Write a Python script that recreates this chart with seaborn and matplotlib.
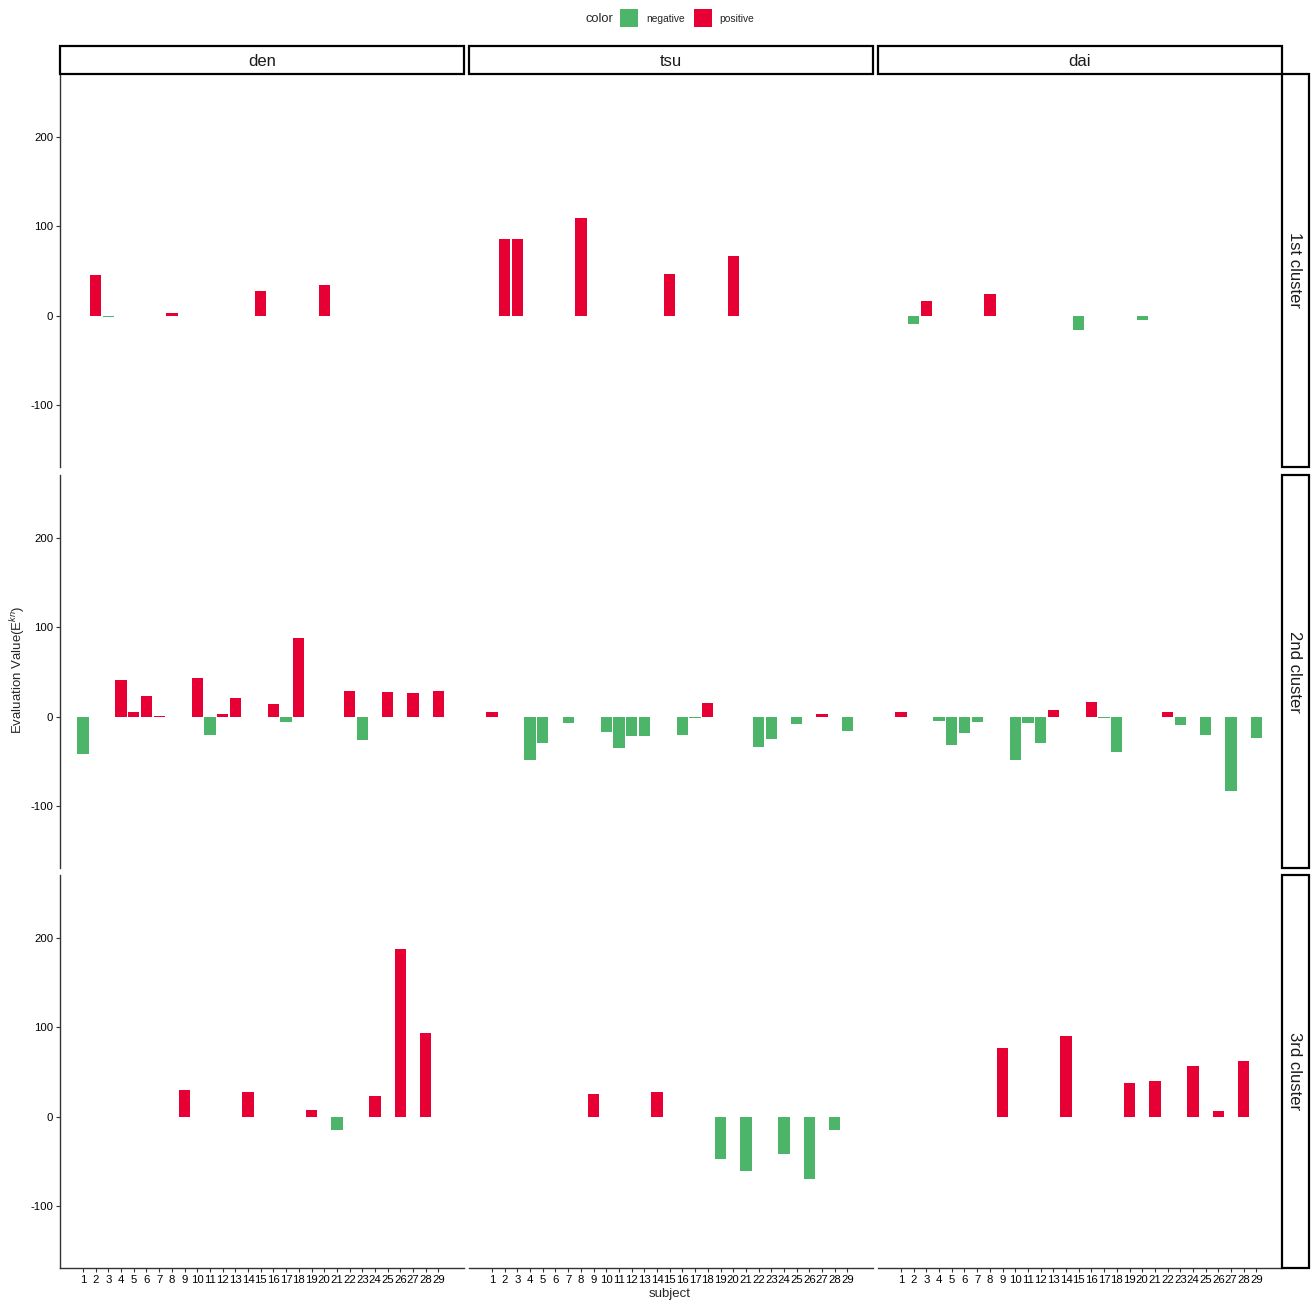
import matplotlib
matplotlib.use("Agg")
import matplotlib.pyplot as plt
import seaborn as sns
import pandas as pd
from matplotlib.patches import Rectangle

# ---------------- data ----------------
subjects = list(range(1, 30))
regions = ["den", "tsu", "dai"]
clusters = ["1st cluster", "2nd cluster", "3rd cluster"]

cluster1_subjects = [2, 3, 8, 15, 20]
den_c1 = [46, -1.5, 2.5, 27, 34]
tsu_c1 = [85.5, 85.5, 109, 47, 67]
dai_c1 = [-10, 16, 24.5, -16.5, -5.5]

cluster2_subjects = [1, 4, 5, 6, 7, 10, 11, 12, 13, 16, 17, 18, 22, 23, 25, 27, 29]
den_c2 = [-42, 41, 5, 23.5, 0.8, 42.8, -20.5, 2.6, 20.5, 14.5, -6.3, 88, 29, -26.4, 27.2, 26.4, 29]
tsu_c2 = [5.6, -48.8, -30, -1.1, -7, -17.9, -35.4, -21.6, -21.6, -20.5, -1.9, 15.6, -34.6, -25.3, -8.9, 2.6, -16.8]
dai_c2 = [4.8, -4.8, -31.7, -18.6, -6, -48.8, -7.8, -30.2, 7.8, 16.4, -2.2, -40.2, 4.8, -9.7, -20.5, -83.8, -24.2]

cluster3_subjects = [9, 14, 19, 21, 24, 26, 28]
den_c3 = [29.2, 28, 7.5, -15.7, 23.2, 188.4, 93.6]
tsu_c3 = [25.7, 27.2, -47.4, -60.9, -42.1, -70.2, -14.8]
dai_c3 = [76.6, 90, 37.3, 39.9, 57.1, 6.6, 62]

y_ticks = [-100, 0, 100, 200]
color_levels = ["negative", "positive"]
palette = {"negative": "#4DB569", "positive": "#E60033"}

cluster_data = {
    "1st cluster": (cluster1_subjects, {"den": den_c1, "tsu": tsu_c1, "dai": dai_c1}),
    "2nd cluster": (cluster2_subjects, {"den": den_c2, "tsu": tsu_c2, "dai": dai_c2}),
    "3rd cluster": (cluster3_subjects, {"den": den_c3, "tsu": tsu_c3, "dai": dai_c3}),
}

rows = []
for cl, (subs, vals) in cluster_data.items():
    for rg in regions:
        for s, v in zip(subs, vals[rg]):
            rows.append({"cluster": cl, "region": rg, "subject": str(s), "value": v,
                         "color": "positive" if v >= 0 else "negative"})
df = pd.DataFrame(rows)

# ---------------- figure ----------------
sns.set_style("white")
plt.rcParams["font.family"] = ["Liberation Sans", "DejaVu Sans"]
plt.rcParams["mathtext.fontset"] = "custom"
plt.rcParams["mathtext.rm"] = "Liberation Sans"
plt.rcParams["mathtext.it"] = "Liberation Sans:italic"
plt.rcParams["axes.unicode_minus"] = False

W, H = 1311, 1302
fig = plt.figure(figsize=(W / 100, H / 100), dpi=100)

col_x = [60, 469, 878]
col_w = 403.5
row_y = [74, 475, 875]
row_h = 393
order = [str(s) for s in subjects]

for i, cl in enumerate(clusters):
    for j, rg in enumerate(regions):
        ax = fig.add_axes([col_x[j] / W, 1 - (row_y[i] + row_h) / H, col_w / W, row_h / H])
        sub = df[(df.cluster == cl) & (df.region == rg)]
        sns.barplot(data=sub, x="subject", y="value", hue="color", order=order,
                    hue_order=color_levels, palette=palette, dodge=False, width=0.89,
                    errorbar=None, legend=False, saturation=1, linewidth=0, ax=ax)
        ax.set_xlim(-1.81, 28 + 1.97)
        ax.set_ylim(-170, 271)
        ax.set_xlabel("")
        ax.set_ylabel("")
        ax.set_yticks(y_ticks)
        for sp in ax.spines.values():
            sp.set_visible(False)
        ax.tick_params(axis="both", length=3, width=0.8, color="#333333",
                       labelsize=8.2, labelcolor="black", pad=2)
        if j == 0:
            ax.spines["left"].set_visible(True)
            ax.spines["left"].set_color("#333333")
            ax.spines["left"].set_linewidth(1.0)
            ax.tick_params(axis="y", left=True)
        else:
            ax.tick_params(axis="y", left=False, labelleft=False)
        if i == 2:
            ax.spines["bottom"].set_visible(True)
            ax.spines["bottom"].set_color("#333333")
            ax.spines["bottom"].set_linewidth(1.0)
            ax.tick_params(axis="x", bottom=True)
        else:
            ax.tick_params(axis="x", bottom=False, labelbottom=False)
        ax.grid(False)

# column strips
for j, rg in enumerate(regions):
    fig.add_artist(Rectangle((col_x[j] / W, 1 - 74 / H), col_w / W, 28 / H,
                             transform=fig.transFigure, facecolor="white",
                             edgecolor="black", linewidth=1.6))
    fig.text((col_x[j] + col_w / 2) / W, 1 - 62 / H, rg, ha="center", va="center",
             fontsize=12, color="#1a1a1a")

# row strips
for i, cl in enumerate(clusters):
    fig.add_artist(Rectangle((1282 / W, 1 - (row_y[i] + row_h) / H), 27 / W, row_h / H,
                             transform=fig.transFigure, facecolor="white",
                             edgecolor="black", linewidth=1.6))
    fig.text(1294 / W, 1 - (row_y[i] + row_h / 2) / H, cl, ha="center", va="center",
             rotation=-90, fontsize=12, color="#1a1a1a")

# axis titles
fig.text(670 / W, 1 - 1294 / H, "subject", ha="center", va="center", fontsize=9.5)
fig.text(18 / W, 1 - 670 / H, r"Evaluation Value(E$^{kn}$)", ha="center", va="center",
         rotation=90, fontsize=9.5)

# legend
fig.text(599 / W, 1 - 19 / H, "color", ha="center", va="center", fontsize=9.3)
fig.add_artist(Rectangle((620 / W, 1 - 27 / H), 18 / W, 18 / H, transform=fig.transFigure,
                         facecolor=palette["negative"], edgecolor="none"))
fig.text(646 / W, 1 - 19 / H, "negative", ha="left", va="center", fontsize=7.4)
fig.add_artist(Rectangle((694 / W, 1 - 27 / H), 18 / W, 18 / H, transform=fig.transFigure,
                         facecolor=palette["positive"], edgecolor="none"))
fig.text(719 / W, 1 - 19 / H, "positive", ha="left", va="center", fontsize=7.4)

fig.savefig("out.png", dpi=100, facecolor="white")
